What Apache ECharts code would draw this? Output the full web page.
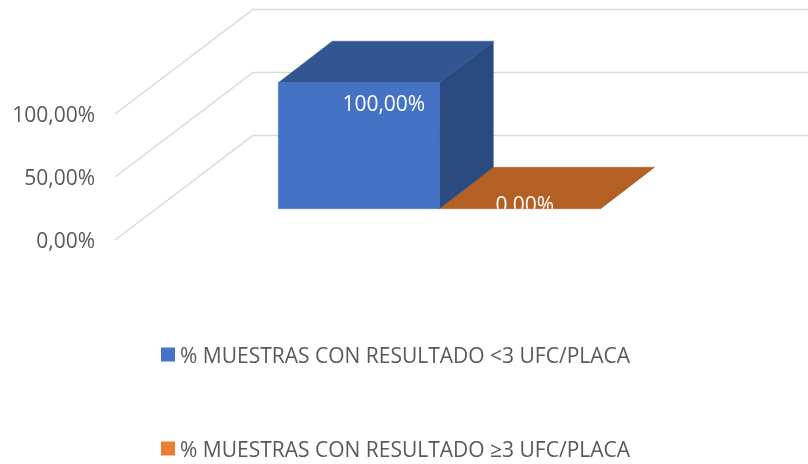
<!DOCTYPE html>
<html>
<head>
<meta charset="utf-8">
<style>html,body{margin:0;padding:0;background:#fff}#c{width:808px;height:464px}</style>
<script src="https://cdn.jsdelivr.net/npm/echarts@6/dist/echarts.min.js"></script>
</head>
<body>
<div id="c"></div>
<script>
const categories = ['Muestras'];
const seriesNames = ['% MUESTRAS CON RESULTADO <3 UFC/PLACA', '% MUESTRAS CON RESULTADO \u22653 UFC/PLACA'];
const lowValues = [100];
const highValues = [0];
const valueTicks = [0, 50, 100];

const FONT = '"Open Sans", sans-serif';
const TEXT = '#595959';
const PLANE_LIFT = 2;
const WALL = { dx: 138, dy: 104.5 };
const BAR_OFFSET = { dx: 41.3, dy: 31.3 + PLANE_LIFT };
const BAR_DEPTH = { dx: 54, dy: 41.5 };
const BAR_FRACTION = 161 / 566;

const fmt = v => v.toFixed(2).replace('.', ',') + '%';
const poly = (points, fill) => ({
  type: 'polygon',
  shape: { points },
  style: { fill, stroke: fill, lineWidth: 0.5 }
});

function bar3d(slot, colors, labelDX, labelDY) {
  return function (params, api) {
    const val = api.value(1);
    const base = api.coord([api.value(0), 0]);
    const top = api.coord([api.value(0), val]);
    const w = api.size([1, 0])[0] * BAR_FRACTION;
    const x0 = base[0] + BAR_OFFSET.dx + slot * w;
    const x1 = x0 + w;
    const y0 = base[1] - BAR_OFFSET.dy;
    const y1 = top[1] - BAR_OFFSET.dy;
    const d = BAR_DEPTH;
    const children = [
      poly([[x1, y0], [x1 + d.dx, y0 - d.dy], [x1 + d.dx, y1 - d.dy], [x1, y1]], colors.side),
      poly([[x0, y1], [x1, y1], [x1 + d.dx, y1 - d.dy], [x0 + d.dx, y1 - d.dy]], colors.top)
    ];
    if (y0 - y1 > 0) children.push(poly([[x0, y0], [x1, y0], [x1, y1], [x0, y1]], colors.front));
    children.push({
      type: 'text',
      z2: 10,
      clipPath: { type: 'rect', shape: { x: x0 - 100, y: 0, width: w + 300, height: y0 } },
      style: {
        text: fmt(val),
        x: (x0 + x1) / 2 + labelDX,
        y: y1 + labelDY,
        fill: '#ffffff',
        font: '21px ' + FONT,
        align: 'center',
        verticalAlign: 'middle'
      }
    });
    return { type: 'group', children };
  };
}

const chart = echarts.init(document.getElementById('c'), null, { renderer: 'canvas' });
chart.setOption({
  animation: false,
  backgroundColor: '#ffffff',
  grid: { left: 115, right: 127, top: 116, bottom: 222 },
  xAxis: { type: 'category', data: categories, show: false },
  yAxis: {
    type: 'value', min: 0, max: 100, interval: 50,
    axisLine: { show: false }, axisTick: { show: false }, splitLine: { show: false },
    axisLabel: { formatter: fmt, color: TEXT, fontFamily: FONT, fontSize: 21, margin: 20 }
  },
  legend: {
    orient: 'vertical', left: 161, top: 347, padding: 0, itemWidth: 14, itemHeight: 20, itemGap: 73,
    icon: 'path://M0 0H14V14H0Z M0 20H14V20H0Z', data: seriesNames, selectedMode: false,
    textStyle: { color: TEXT, fontFamily: FONT, fontSize: 21 }
  },
  series: [
    {
      type: 'custom', name: 'ticks', z: 1, silent: true,
      data: valueTicks.map(v => [v]),
      encode: { y: 0 },
      renderItem: function (params, api) {
        const size = api.size([1, 0])[0];
        const g = api.coord([0, api.value(0)]);
        const left = g[0] - size / 2;
        const y = g[1] - PLANE_LIFT;
        return {
          type: 'polyline',
          shape: { points: [[left, y], [left + WALL.dx, y - WALL.dy], [left + size + WALL.dx, y - WALL.dy]] },
          style: { fill: null, stroke: '#D9D9D9', lineWidth: 1.5 }
        };
      }
    },
    {
      type: 'custom', name: seriesNames[0], z: 3, silent: true,
      itemStyle: { color: '#4472C4' },
      data: lowValues.map((v, i) => [i, v]),
      encode: { x: 0, y: 1 },
      renderItem: bar3d(-1, { front: '#4472C4', top: '#335693', side: '#2B4A80' }, 25, 22)
    },
    {
      type: 'custom', name: seriesNames[1], z: 2, silent: true,
      itemStyle: { color: '#ED7D31' },
      data: highValues.map((v, i) => [i, v]),
      encode: { x: 0, y: 1 },
      renderItem: bar3d(0, { front: '#ED7D31', top: '#B45F23', side: '#8F4B1C' }, 5, -3)
    }
  ]
});
</script>
</body>
</html>
